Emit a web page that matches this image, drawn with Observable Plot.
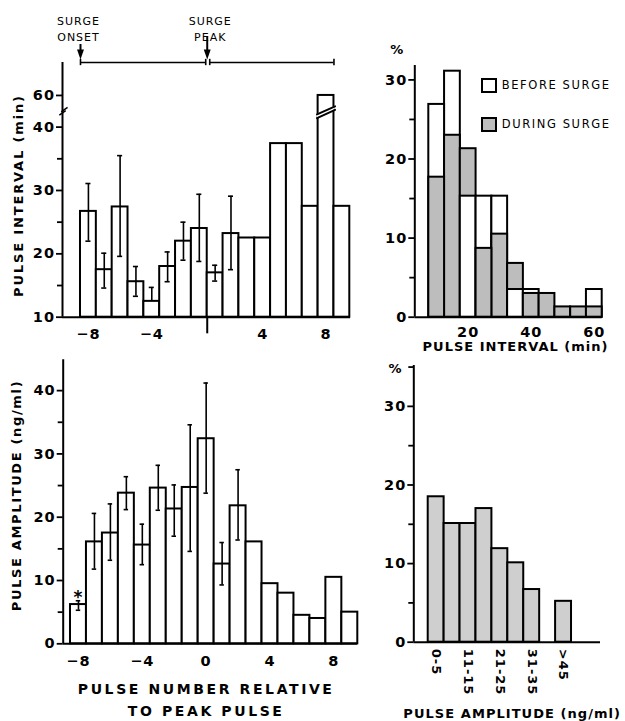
<!DOCTYPE html>
<html>
<head>
<meta charset="utf-8">
<script src="https://cdn.jsdelivr.net/npm/d3@7"></script>
<script src="https://cdn.jsdelivr.net/npm/@observablehq/plot@0.6"></script>
<style>
  html, body { margin: 0; padding: 0; background: #fff; }
  #page { position: relative; width: 625px; height: 721px; overflow: hidden; font-family: "DejaVu Sans", sans-serif; }
  .panel { position: absolute; }
  .panel svg { display: block; }
  .key { position: absolute; display: flex; align-items: center; font-size: 11.5px; letter-spacing: 1.6px; color: #000; white-space: nowrap; line-height: 15px; }
  .key .sw { width: 16px; height: 15px; box-sizing: border-box; border: 2px solid #000; margin-right: 5px; flex: none; }
</style>
</head>
<body>
<div id="page"></div>
<script>
// ---------------- data ----------------
// Top-left: pulse interval (min) by pulse number relative to peak (no 0: peak line)
const intervalPulse = [-8, -7, -6, -5, -4, -3, -2, -1, 1, 2, 3, 4, 5, 6, 7, 8, 9];
const intervalMean  = [26.7, 17.5, 27.4, 15.6, 12.5, 18.0, 22.0, 24.0, 17.0, 23.2, 22.5, 22.5, 37.4, 37.4, 27.5, 60, 27.5];
const intervalSemLo = [22.0, 14.6, 19.6, 13.3, 12.5, 15.6, 19.0, 18.8, 15.7, 17.5, null, null, null, null, null, null, null];
const intervalSemHi = [31.1, 20.1, 35.5, 18.0, 14.7, 20.3, 25.0, 29.4, 18.2, 29.1, null, null, null, null, null, null, null];

// Bottom-left: pulse amplitude (ng/ml)
const amplitudePulse = [-8, -7, -6, -5, -4, -3, -2, -1, 0, 1, 2, 3, 4, 5, 6, 7, 8, 9];
const amplitudeMean  = [6.2, 16.1, 17.5, 23.8, 15.6, 24.6, 21.3, 24.7, 32.4, 12.6, 21.8, 16.1, 9.5, 8.0, 4.5, 4.0, 10.5, 5.0];
const amplitudeSemLo = [5.3, 11.8, 13.2, 21.2, 12.5, 21.1, 17.0, 14.6, 23.8, 9.3, 16.4, null, null, null, null, null, null, null];
const amplitudeSemHi = [6.8, 20.6, 22.1, 26.4, 18.9, 28.2, 25.1, 34.6, 41.2, 16.0, 27.5, null, null, null, null, null, null, null];
const amplitudeFlagged = [-8];

// Top-right: distribution of pulse intervals (%)
const intervalBinMid = [10, 15, 20, 25, 30, 35, 40, 45, 50, 55, 60];
const beforeSurgePct = [26.9, 31.1, 15.3, 15.3, 15.3, 3.5, 3.5, 0, 0, 0, 3.5];
const duringSurgePct = [17.7, 23.0, 21.3, 8.7, 10.5, 6.8, 3.0, 3.0, 1.3, 1.3, 1.3];

// Bottom-right: distribution of pulse amplitudes (%)
const amplitudeClass    = ["0-5", "6-10", "11-15", "16-20", "21-25", "26-30", "31-35", "36-45", ">45"];
const amplitudeClassPct = [18.5, 15.1, 15.1, 17.0, 11.9, 10.1, 6.7, 0, 5.2];

// tick labels
const intervalXTicks  = [-8, -4, 4, 8];
const intervalYTicks  = [10, 20, 30, 40, 60];
const amplitudeXTicks = [-8, -4, 0, 4, 8];
const amplitudeYTicks = [0, 10, 20, 30, 40];
const pctTicks        = [0, 10, 20, 30];
const binTicks        = [20, 40, 60];
const classTicks      = ["0-5", "11-15", "21-25", "31-35", ">45"];

const surgeEvents = [{name: "SURGE\nONSET", pulse: -8}, {name: "SURGE\nPEAK", pulse: 0}];
const GRAY_DURING = "#bdbdbd";
const GRAY_AMP = "#cfcfcf";
const legendItems = [{name: "BEFORE SURGE", fill: "#ffffff"}, {name: "DURING SURGE", fill: GRAY_DURING}];

// ---------------- helpers ----------------
const FONT = '"DejaVu Sans", sans-serif';
const TICK_FS = 14.5;
const baseStyle = {fontFamily: FONT, fontSize: "14px", fontWeight: "bold", letterSpacing: "1px", background: "transparent", overflow: "visible"};
const minus = k => (k < 0 ? "\u2212" + Math.abs(k) : String(k));
const page = document.getElementById("page");
function mount(svg, left, top, tracking) {
  d3.select(svg).selectAll("text").each(function () {
    const t = this.textContent;
    for (const [prefix, ls] of tracking) if (t.startsWith(prefix)) this.style.letterSpacing = ls;
  });
  const d = document.createElement("div");
  d.className = "panel";
  d.style.left = left + "px";
  d.style.top = top + "px";
  d.appendChild(svg);
  page.appendChild(d);
}

// ---------------- top-left: pulse interval ----------------
{
  // slot: intervals before the peak sit left of the peak line, after it to the right
  const slot = k => (k < 0 ? k : k - 1);
  const mid = k => slot(k) + 0.5;
  const fromMid = t => (t < 0 ? t - 0.5 : t + 0.5);
  // broken axis: 40 -> 60 compressed
  const ax = v => (v > 40 ? v - 15 : v);
  const axInv = t => (t > 40 ? t + 15 : t);
  const xDom = [-9.136, 9.044], yDom = [10, 50.2];
  const rows = intervalPulse.map((p, i) => ({p, x1: slot(p), x2: slot(p) + 1, xc: mid(p), y: ax(intervalMean[i]), raw: intervalMean[i], lo: intervalSemLo[i], hi: intervalSemHi[i]}));
  const err = rows.filter(d => d.hi != null);
  const broken = rows.filter(d => d.y !== d.raw);
  const gap = broken.flatMap(d => [{x: d.x1 - 0.07, lo: 41.42, hi: 42.02}, {x: d.x2 + 0.07, lo: 42.73, hi: 43.28}]);
  const capW = 0.16;
  const top = yDom[1], u = 6.33;
  const py = px => top + (62 - px) / u;
  const downTri = {draw(ctx, size) { const h = Math.sqrt(size) * 1.4, w = h * 0.7; ctx.moveTo(-w / 2, -h / 2); ctx.lineTo(w / 2, -h / 2); ctx.lineTo(0, h / 2); ctx.closePath(); }};

  const svg = Plot.plot({
    width: 370, height: 345, marginLeft: 62, marginRight: 20, marginTop: 62, marginBottom: 28.3,
    x: {domain: xDom}, y: {domain: yDom},
    style: baseStyle,
    marks: [
      Plot.rect(rows, {x1: "x1", x2: "x2", y1: 10, y2: "y", fill: "white", stroke: "black", strokeWidth: 2}),
      Plot.areaY(gap, {x: "x", y1: "lo", y2: "hi", fill: "white"}),
      Plot.line(gap, {x: "x", y: "lo", stroke: "black", strokeWidth: 2}),
      Plot.line(gap, {x: "x", y: "hi", stroke: "black", strokeWidth: 2}),
      Plot.ruleX(err, {x: "xc", y1: "lo", y2: "hi", strokeWidth: 1.6}),
      Plot.ruleY(err, {y: "hi", x1: d => d.xc - capW, x2: d => d.xc + capW, strokeWidth: 1.6}),
      Plot.ruleY(err.filter(d => d.lo < d.y), {y: "lo", x1: d => d.xc - capW, x2: d => d.xc + capW, strokeWidth: 1.6}),
      // axes
      Plot.ruleX([xDom[0]], {y1: yDom[0], y2: yDom[1], strokeWidth: 2}),
      Plot.ruleY([yDom[0]], {strokeWidth: 2}),
      Plot.ruleX([0], {y1: 10 - 16.6 / u, y2: 10, strokeWidth: 2}),
      Plot.link([0, 1], {x1: d => xDom[0] - 0.2 + d * 0.12, x2: d => xDom[0] + 0.2 + d * 0.12, y1: d => 41.9 + d * 0.5, y2: d => 42.6 + d * 0.5, strokeWidth: 1.5}),
      Plot.axisY({ticks: intervalYTicks.map(ax), tickFormat: t => String(axInv(t)), tickSize: 6, tickPadding: 1.5, strokeWidth: 1.8, fontSize: TICK_FS, label: null}),
      Plot.axisY({ticks: [15, 25, 35], tickFormat: () => "", tickSize: 5, strokeWidth: 1.8, label: null}),
      Plot.axisX({ticks: intervalXTicks.map(mid), tickFormat: t => minus(fromMid(t)), tickSize: 0, tickPadding: 12, fontSize: TICK_FS, label: null}),
      Plot.text(["PULSE INTERVAL (min)"], {x: xDom[0], y: 29.2, dx: -43.5, rotate: -90, text: d => d, fontSize: 13, fontWeight: "bold"}),
      // surge annotations
      Plot.ruleY([top], {x1: surgeEvents[0].pulse, x2: surgeEvents[1].pulse, insetRight: 1.5, strokeWidth: 1.6}),
      Plot.ruleY([top], {x1: surgeEvents[1].pulse, x2: slot(intervalXTicks[3]) + 1, insetLeft: 2.5, strokeWidth: 1.6}),
      Plot.ruleX([surgeEvents[0].pulse, slot(intervalXTicks[3]) + 1], {y1: top - 0.5, y2: top + 0.5, strokeWidth: 1.6}),
      Plot.ruleX([surgeEvents[1].pulse], {y1: top - 0.5, y2: top + 0.5, dx: -1.5, strokeWidth: 1.6}),
      Plot.ruleX([surgeEvents[1].pulse], {y1: top - 0.5, y2: top + 0.5, dx: 2.5, strokeWidth: 1.6}),
      Plot.ruleX(surgeEvents.slice(0, 1), {x: "pulse", y1: py(44), y2: py(52), strokeWidth: 2}),
      Plot.ruleX(surgeEvents.slice(1), {x: "pulse", y1: py(36), y2: py(52), strokeWidth: 2}),
      Plot.dot(surgeEvents, {x: "pulse", y: py(54), symbol: downTri, r: 4, fill: "black", stroke: "none"}),
      Plot.text(surgeEvents.slice(0, 1), {x: "pulse", y: top, dy: -49.5, dx: -2, text: "name", lineAnchor: "top", lineHeight: 1.5, fontSize: 11, fontWeight: "normal"}),
      Plot.text(surgeEvents.slice(1), {x: "pulse", y: top, dy: -49.5, dx: 3, text: "name", lineAnchor: "top", lineHeight: 1.5, fontSize: 11, fontWeight: "normal"})
    ]
  });
  mount(svg, 0, 0, [["PULSE INTERVAL", "1.85px"], ["SURGE", "1px"]]);
}

// ---------------- bottom-left: pulse amplitude ----------------
{
  const xDom = [-8.957, 9.5], yDom = [0, 44.87];
  const rows = amplitudePulse.map((p, i) => ({p, v: amplitudeMean[i], lo: amplitudeSemLo[i], hi: amplitudeSemHi[i]}));
  const err = rows.filter(d => d.hi != null);
  const flagged = rows.filter(d => amplitudeFlagged.includes(d.p));
  const capW = 0.14;
  const svg = Plot.plot({
    width: 370, height: 376, marginLeft: 62.7, marginRight: 12.7, marginTop: 14.3, marginBottom: 77.7,
    x: {domain: xDom}, y: {domain: yDom},
    style: baseStyle,
    marks: [
      Plot.rect(rows, {x1: d => d.p - 0.5, x2: d => d.p + 0.5, y1: 0, y2: "v", fill: "white", stroke: "black", strokeWidth: 2}),
      Plot.ruleX(err, {x: "p", y1: "lo", y2: "hi", strokeWidth: 1.6}),
      Plot.ruleY(err, {y: "hi", x1: d => d.p - capW, x2: d => d.p + capW, strokeWidth: 1.6}),
      Plot.ruleY(err, {y: "lo", x1: d => d.p - capW, x2: d => d.p + capW, strokeWidth: 1.6}),
      Plot.text(flagged, {x: "p", y: "hi", text: () => "*", dy: -3, fontSize: 17, fontWeight: "bold"}),
      Plot.ruleX([xDom[0]], {y1: yDom[0], y2: yDom[1], strokeWidth: 2}),
      Plot.ruleY([0], {strokeWidth: 2}),
      Plot.axisY({ticks: amplitudeYTicks, tickSize: 6, tickPadding: 1.5, strokeWidth: 1.8, fontSize: TICK_FS, label: null}),
      Plot.axisY({ticks: [5, 15, 25, 35], tickFormat: () => "", tickSize: 5, strokeWidth: 1.8, label: null}),
      Plot.axisX({ticks: amplitudeXTicks, tickFormat: minus, tickSize: 0, tickPadding: 12, fontSize: TICK_FS, label: null}),
      Plot.text(["PULSE AMPLITUDE (ng/ml)"], {x: xDom[0], y: 23.43, dx: -46.7, rotate: -90, text: d => d, fontSize: 13, fontWeight: "bold"}),
      Plot.text(["PULSE NUMBER RELATIVE\nTO PEAK PULSE"], {x: 0, y: 0, dy: 54.5, text: d => d, lineAnchor: "middle", lineHeight: 1.55, fontSize: 14, fontWeight: "bold"})
    ]
  });
  mount(svg, 0, 345, [["PULSE AMPLITUDE", "1.65px"], ["PULSE NUMBER", "2.6px"]]);
}

// ---------------- top-right: interval distribution ----------------
{
  const xDom = [3.06, 62.5], yDom = [0, 31.82];
  const half = (intervalBinMid[1] - intervalBinMid[0]) / 2;
  const rows = intervalBinMid.flatMap((c, i) => [
    {c, v: beforeSurgePct[i], fill: legendItems[0].fill},
    {c, v: duringSurgePct[i], fill: legendItems[1].fill}
  ]).filter(d => d.v > 0);
  const ordered = d3.sort(rows, (a, b) => d3.descending(a.v, b.v));
  const svg = Plot.plot({
    width: 255, height: 360, marginLeft: 44.3, marginRight: 23.3, marginTop: 65, marginBottom: 43.3,
    x: {domain: xDom}, y: {domain: yDom}, color: {type: "identity"},
    style: baseStyle,
    marks: [
      Plot.rect(ordered, {x1: d => d.c - half, x2: d => d.c + half, y1: 0, y2: "v", fill: "fill", stroke: "black", strokeWidth: 2}),
      Plot.ruleX([xDom[0]], {y1: yDom[0], y2: yDom[1], strokeWidth: 2}),
      Plot.ruleY([0], {strokeWidth: 2}),
      Plot.axisY({ticks: pctTicks, tickSize: 6, tickPadding: 1.5, strokeWidth: 1.8, fontSize: TICK_FS, label: null}),
      Plot.axisY({ticks: [5, 15, 25], tickFormat: () => "", tickSize: 5, strokeWidth: 1.8, label: null}),
      Plot.axisX({ticks: binTicks, tickSize: 0, tickPadding: 9.5, fontSize: TICK_FS, label: null}),
      Plot.text(["%"], {x: xDom[0], y: yDom[1], dx: -17.6, dy: -15.7, text: d => d, fontSize: 13, fontWeight: "bold"}),
      Plot.text(["PULSE INTERVAL (min)"], {x: 35, y: 0, dy: 30, text: d => d, fontSize: 13, fontWeight: "bold"})
    ]
  });
  mount(svg, 370, 0, [["PULSE INTERVAL", "1px"]]);
}

// legend (top-right)
legendItems.forEach((item, i) => {
  const el = document.createElement("div");
  el.className = "key";
  el.style.left = "480.7px";
  el.style.top = (78.3 + i * 38.4) + "px";
  const sw = document.createElement("div");
  sw.className = "sw";
  sw.style.background = item.fill;
  const tx = document.createElement("span");
  tx.textContent = item.name;
  el.appendChild(sw);
  el.appendChild(tx);
  page.appendChild(el);
});

// ---------------- bottom-right: amplitude distribution ----------------
{
  const xDom = [-0.905, 10.82], yDom = [0, 35.2];
  const rows = amplitudeClass.map((c, i) => ({c, i, v: amplitudeClassPct[i]})).filter(d => d.v > 0);
  const svg = Plot.plot({
    width: 255, height: 361, marginLeft: 43.3, marginRight: 25, marginTop: 5, marginBottom: 79.3,
    x: {domain: xDom}, y: {domain: yDom},
    style: baseStyle,
    marks: [
      Plot.rect(rows, {x1: "i", x2: d => d.i + 1, y1: 0, y2: "v", fill: GRAY_AMP, stroke: "black", strokeWidth: 2}),
      Plot.ruleX([xDom[0]], {y1: yDom[0], y2: yDom[1], strokeWidth: 2}),
      Plot.ruleY([0], {strokeWidth: 2}),
      Plot.axisY({ticks: pctTicks, tickSize: 6, tickPadding: 1.5, strokeWidth: 1.8, fontSize: TICK_FS, label: null}),
      Plot.axisY({ticks: [5, 15, 25, 35], tickFormat: () => "", tickSize: 5, strokeWidth: 1.8, label: null}),
      Plot.axisX({ticks: classTicks.map(c => amplitudeClass.indexOf(c) + 0.5), tickFormat: t => amplitudeClass[Math.floor(t)], tickSize: 0, tickPadding: 6.6, tickRotate: 90, textAnchor: "start", lineAnchor: "middle", fontSize: 13, label: null}),
      Plot.text(["%"], {x: xDom[0], y: yDom[1], dx: -18.3, dy: 3.3, text: d => d, fontSize: 13, fontWeight: "bold"}),
      Plot.text(["PULSE AMPLITUDE (ng/ml)"], {x: 5.276, y: 0, dy: 71.6, text: d => d, fontSize: 13, fontWeight: "bold"})
    ]
  });
  mount(svg, 370, 360, [["PULSE AMPLITUDE", "1.05px"]]);
}
</script>
</body>
</html>
